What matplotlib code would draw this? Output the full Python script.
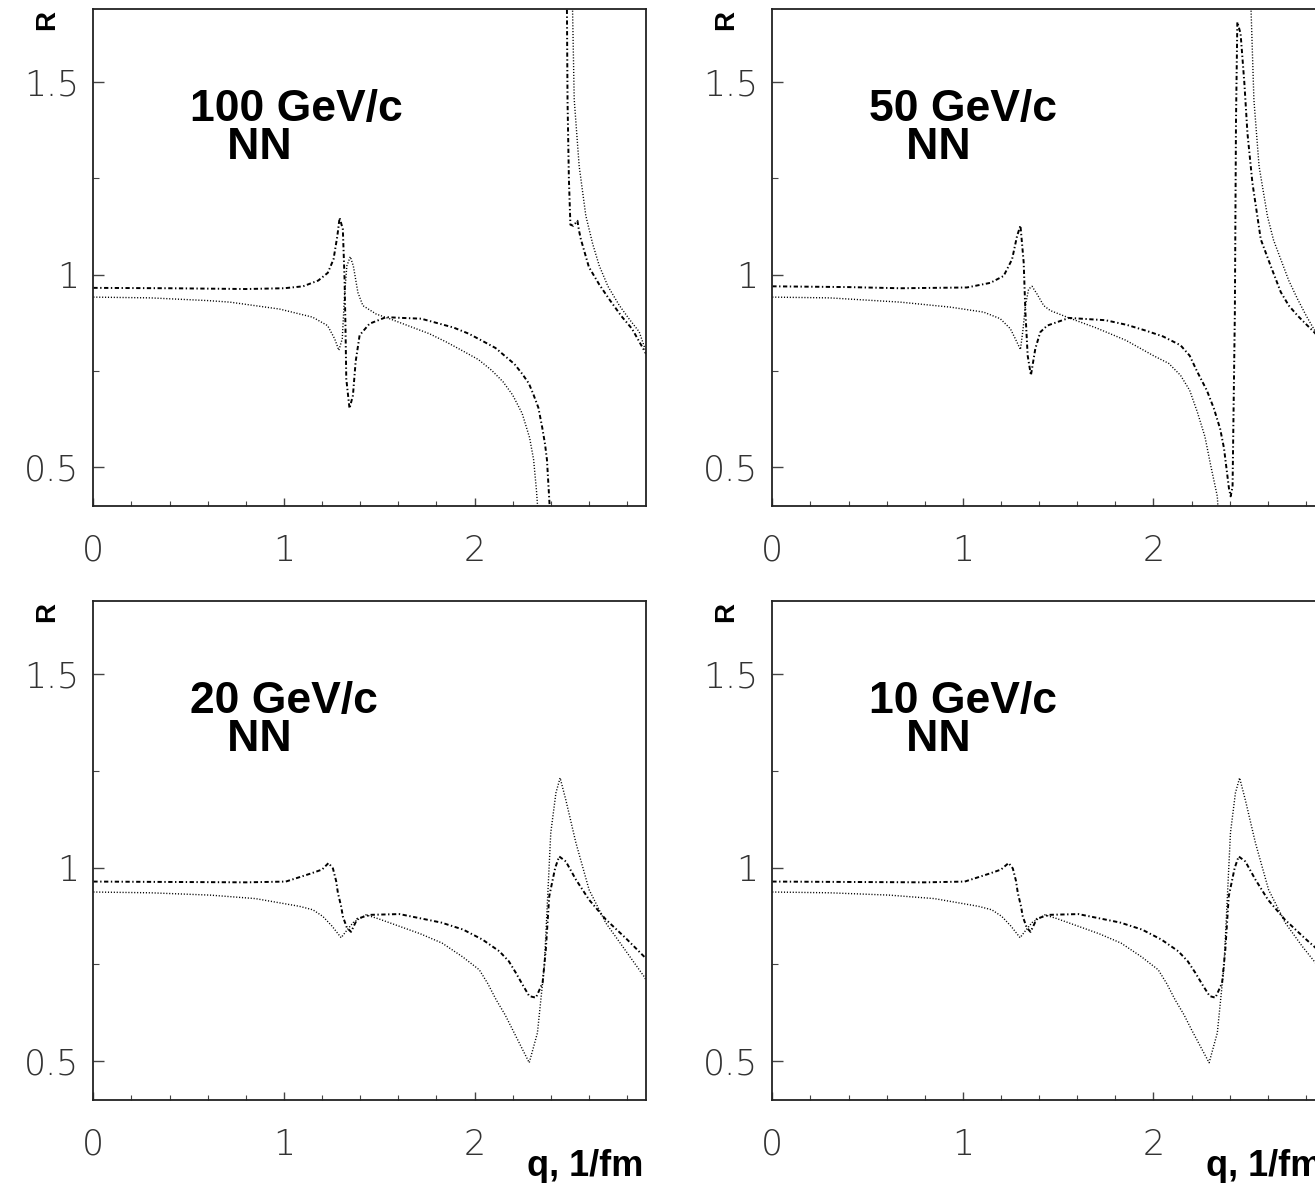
import numpy as np
import matplotlib
matplotlib.use('Agg')
from matplotlib import pyplot as plt
from matplotlib.ticker import MultipleLocator, FixedLocator

nan = np.nan

# panel labels
momenta = ['100 GeV/c', '50 GeV/c', '20 GeV/c', '10 GeV/c']

# 100 GeV/c, dash-dot curve
q_dd_100 = [0, 0.4, 0.8, 1.0, 1.1, 1.18, 1.23, 1.26, 1.28, 1.292,
            1.309, 1.318, 1.323, 1.327, 1.344, 1.362, 1.376, 1.397, 1.449, 1.536,
            1.62, 1.72, 1.89, 1.97, 2.05, 2.11, 2.16, 2.21, 2.25, 2.285,
            2.31, 2.335, 2.355, 2.37, 2.38, 2.40,
            nan, 2.484, 2.488, 2.495, 2.503, 2.518, 2.54, 2.548, 2.558, 2.60,
            2.654, 2.706, 2.77, 2.826, 2.9]
R_dd_100 = [0.966, 0.965, 0.963, 0.965, 0.97, 0.985, 1.005, 1.04, 1.10, 1.148,
            1.118, 0.989, 0.86, 0.73, 0.653, 0.687, 0.774, 0.843, 0.873, 0.89,
            0.888, 0.886, 0.863, 0.847, 0.826, 0.81, 0.789, 0.768, 0.743, 0.718,
            0.688, 0.655, 0.604, 0.56, 0.52, 0.35,
            nan, 1.75, 1.45, 1.25, 1.13, 1.127, 1.14, 1.115, 1.092, 1.02,
            0.975, 0.937, 0.893, 0.86, 0.795]
# 100 GeV/c, dotted curve
q_dot_100 = [0, 0.3, 0.6, 0.716, 0.977, 1.15, 1.229, 1.266, 1.288, 1.306,
             1.318, 1.33, 1.348, 1.364, 1.388, 1.414, 1.484, 1.554, 1.763, 1.85,
             1.936, 2.02, 2.09, 2.15, 2.2, 2.25, 2.289, 2.31, 2.325, 2.345,
             nan, 2.512, 2.523, 2.549, 2.584, 2.62, 2.654, 2.7, 2.759, 2.81,
             2.864, 2.9]
R_dot_100 = [0.942, 0.94, 0.933, 0.929, 0.911, 0.89, 0.868, 0.834, 0.804, 0.834,
             0.946, 1.023, 1.047, 1.023, 0.954, 0.92, 0.898, 0.886, 0.847, 0.826,
             0.803, 0.78, 0.752, 0.722, 0.688, 0.64, 0.577, 0.52, 0.44, 0.3,
             nan, 1.75, 1.455, 1.282, 1.153, 1.08, 1.024, 0.97, 0.921, 0.886,
             0.852, 0.80]

# 50 GeV/c
q_dd_50 = [0, 0.4, 0.671, 1.021, 1.144, 1.214, 1.258, 1.284, 1.302, 1.319,
           1.328, 1.34, 1.357, 1.38, 1.406, 1.442, 1.557, 1.749, 1.86, 1.96,
           2.05, 2.142, 2.19, 2.23, 2.28, 2.317, 2.35, 2.37, 2.396, 2.405,
           2.415, 2.427, 2.433, 2.44, 2.457, 2.477, 2.493, 2.519, 2.563, 2.615,
           2.668, 2.71, 2.756, 2.8, 2.843, 2.9]
R_dd_50 = [0.97, 0.968, 0.965, 0.967, 0.979, 0.997, 1.04, 1.10, 1.128, 1.032,
           0.903, 0.79, 0.739, 0.808, 0.851, 0.868, 0.888, 0.882, 0.87, 0.855,
           0.84, 0.817, 0.79, 0.748, 0.7, 0.653, 0.6, 0.55, 0.446, 0.425,
           0.45, 0.9, 1.4, 1.656, 1.626, 1.497, 1.368, 1.239, 1.092, 1.023,
           0.955, 0.92, 0.894, 0.872, 0.851, 0.82]
q_dot_50 = [0, 0.3, 0.671, 0.934, 1.109, 1.196, 1.249, 1.275, 1.302, 1.316,
            1.328, 1.345, 1.363, 1.389, 1.424, 1.459, 1.557, 1.7, 1.855, 2.0,
            2.08, 2.142, 2.19, 2.23, 2.27, 2.30, 2.335, 2.35,
            nan, 2.508, 2.527, 2.554, 2.598, 2.63, 2.668, 2.71, 2.756, 2.8,
            2.851, 2.9]
R_dot_50 = [0.942, 0.94, 0.929, 0.916, 0.903, 0.886, 0.86, 0.834, 0.806, 0.86,
            0.92, 0.963, 0.97, 0.95, 0.92, 0.907, 0.888, 0.862, 0.83, 0.79,
            0.77, 0.739, 0.7, 0.644, 0.58, 0.506, 0.425, 0.3,
            nan, 1.75, 1.454, 1.282, 1.152, 1.09, 1.04, 0.985, 0.937, 0.895,
            0.851, 0.815]

# 20 GeV/c
q_dd_20 = [0, 0.4, 0.8, 1.01, 1.142, 1.2, 1.234, 1.257, 1.274, 1.283,
           1.3, 1.309, 1.33, 1.352, 1.385, 1.45, 1.606, 1.826, 1.94, 2.042,
           2.13, 2.18, 2.217, 2.255, 2.287, 2.322, 2.357, 2.374, 2.392, 2.423,
           2.444, 2.479, 2.532, 2.601, 2.689, 2.793, 2.88, 2.9]
R_dd_20 = [0.964, 0.963, 0.962, 0.964, 0.985, 0.995, 1.012, 0.998, 0.965, 0.935,
           0.9, 0.874, 0.845, 0.834, 0.868, 0.878, 0.88, 0.858, 0.84, 0.814,
           0.784, 0.758, 0.728, 0.695, 0.668, 0.664, 0.702, 0.788, 0.926, 0.999,
           1.029, 1.016, 0.969, 0.917, 0.866, 0.818, 0.775, 0.765]
q_dot_20 = [0, 0.3, 0.613, 0.85, 1.082, 1.152, 1.204, 1.252, 1.30, 1.333,
            1.363, 1.43, 1.495, 1.716, 1.83, 1.936, 2.025, 2.07, 2.113, 2.16,
            2.2, 2.252, 2.287, 2.33, 2.366, 2.383, 2.40, 2.427, 2.449, 2.479,
            2.532, 2.601, 2.689, 2.776, 2.889, 2.9]
R_dot_20 = [0.937, 0.935, 0.929, 0.92, 0.9, 0.891, 0.874, 0.849, 0.819, 0.84,
            0.858, 0.878, 0.868, 0.829, 0.805, 0.77, 0.736, 0.7, 0.659, 0.62,
            0.581, 0.53, 0.496, 0.573, 0.745, 0.917, 1.09, 1.193, 1.232, 1.175,
            1.064, 0.943, 0.857, 0.797, 0.719, 0.71]

# 10 GeV/c
q_dd_10 = [0, 0.4, 0.8, 1.01, 1.142, 1.2, 1.24, 1.262, 1.279, 1.288,
           1.305, 1.314, 1.335, 1.355, 1.388, 1.45, 1.606, 1.826, 1.94, 2.042,
           2.13, 2.18, 2.22, 2.26, 2.295, 2.325, 2.36, 2.377, 2.395, 2.426,
           2.447, 2.482, 2.535, 2.601, 2.689, 2.793, 2.88, 2.9]
R_dd_10 = [0.964, 0.963, 0.962, 0.964, 0.985, 0.995, 1.012, 0.998, 0.965, 0.935,
           0.9, 0.874, 0.845, 0.834, 0.868, 0.878, 0.88, 0.858, 0.84, 0.814,
           0.784, 0.758, 0.728, 0.695, 0.668, 0.664, 0.702, 0.788, 0.926, 0.999,
           1.029, 1.016, 0.969, 0.917, 0.866, 0.818, 0.78, 0.77]
q_dot_10 = [0, 0.3, 0.613, 0.85, 1.082, 1.152, 1.204, 1.252, 1.30, 1.333,
            1.363, 1.43, 1.495, 1.716, 1.83, 1.936, 2.025, 2.07, 2.113, 2.16,
            2.2, 2.255, 2.292, 2.335, 2.37, 2.387, 2.404, 2.43, 2.452, 2.482,
            2.535, 2.604, 2.692, 2.78, 2.889, 2.9]
R_dot_10 = [0.937, 0.935, 0.929, 0.92, 0.9, 0.891, 0.874, 0.849, 0.819, 0.84,
            0.858, 0.878, 0.868, 0.829, 0.805, 0.77, 0.736, 0.7, 0.659, 0.62,
            0.581, 0.53, 0.496, 0.573, 0.745, 0.917, 1.09, 1.193, 1.232, 1.175,
            1.064, 0.943, 0.857, 0.797, 0.73, 0.72]

y_ticks = [0.5, 1.0, 1.5]
y_tick_labels = ['0.5', '1', '1.5']
x_ticks = [0, 1, 2]
x_tick_labels = ['0', '1', '2']

TICK_FONT = dict(family=['DejaVu Sans'], weight=200, size=25)
BOLD_FONT = ['Liberation Sans', 'DejaVu Sans']

dashdot = (0, (2.2, 1.3, 0.7, 1.3))
dotted = (0, (0.8, 1.3))


def draw_panel(ax, q_dd, r_dd, q_dot, r_dot, label, show_xlabel):
    ax.plot(q_dot, r_dot, color='black', lw=1.0, linestyle=dotted)
    ax.plot(q_dd, r_dd, color='black', lw=1.4, linestyle=dashdot)

    ax.set_xlim(0, 2.9)
    ax.set_ylim(0.4, 1.69)

    ax.yaxis.set_major_locator(FixedLocator(y_ticks))
    ax.set_yticklabels(y_tick_labels, fontdict=TICK_FONT)
    ax.yaxis.set_minor_locator(FixedLocator([0.75, 1.25]))
    ax.xaxis.set_major_locator(FixedLocator(x_ticks))
    ax.set_xticklabels(x_tick_labels, fontdict=TICK_FONT)
    ax.xaxis.set_minor_locator(MultipleLocator(0.2))

    ax.tick_params(axis='y', which='major', direction='in', length=8, width=1.0, pad=10, color='#444444')
    ax.tick_params(axis='y', which='minor', direction='in', length=4, width=0.8, color='#444444')
    ax.tick_params(axis='x', which='major', direction='in', length=6, width=1.0, pad=20, color='#444444')
    ax.tick_params(axis='x', which='minor', direction='in', length=3.3, width=0.8, color='#444444')
    ax.tick_params(labelcolor='#333333')

    for s in ax.spines.values():
        s.set_linewidth(1.3)
        s.set_color('#222222')

    # momentum and "NN" as one two-line label
    ax.text(0.505, 1.482, label + '\n   NN', fontsize=32, fontweight='bold', family=BOLD_FONT,
            va='top', ha='left', multialignment='left', linespacing=0.89)
    ax.text(-0.084, 0.977, 'R', transform=ax.transAxes, rotation=90, fontsize=20,
            fontweight='bold', family=BOLD_FONT, ha='center', va='center')
    if show_xlabel:
        ax.text(0.995, -0.152, 'q, 1/fm', transform=ax.transAxes, fontsize=26,
                fontweight='bold', family=BOLD_FONT, ha='right', va='baseline')


fig = plt.figure(figsize=(13.15, 11.83), dpi=100)
ax_tl = fig.add_axes([0.0710, 0.5723, 0.4203, 0.4202])
ax_tr = fig.add_axes([0.5873, 0.5723, 0.4203, 0.4202])
ax_bl = fig.add_axes([0.0710, 0.0703, 0.4203, 0.4220])
ax_br = fig.add_axes([0.5873, 0.0703, 0.4203, 0.4220])

draw_panel(ax_tl, q_dd_100, R_dd_100, q_dot_100, R_dot_100, momenta[0], False)
draw_panel(ax_tr, q_dd_50, R_dd_50, q_dot_50, R_dot_50, momenta[1], False)
draw_panel(ax_bl, q_dd_20, R_dd_20, q_dot_20, R_dot_20, momenta[2], True)
draw_panel(ax_br, q_dd_10, R_dd_10, q_dot_10, R_dot_10, momenta[3], True)

fig.savefig('out.png', dpi=100)
